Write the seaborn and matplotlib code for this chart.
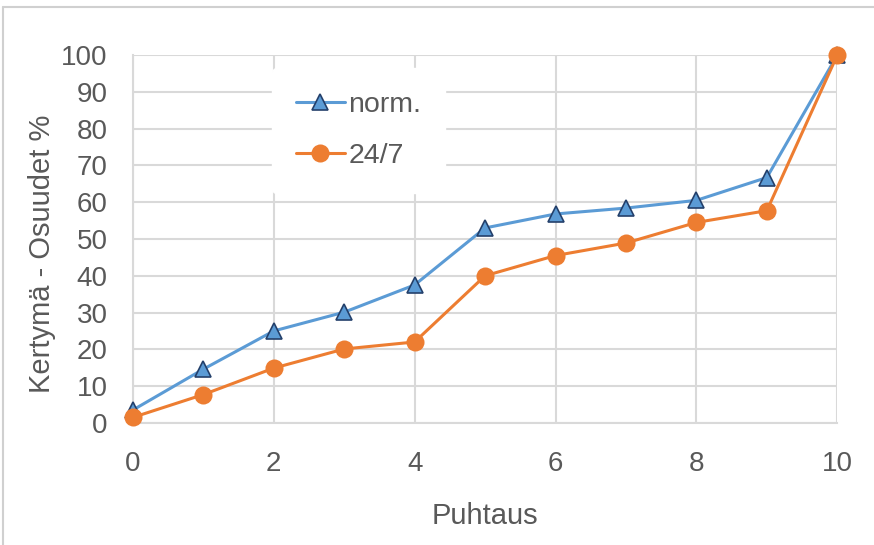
import matplotlib
matplotlib.use("Agg")
import matplotlib.pyplot as plt
import matplotlib.lines as mlines
import seaborn as sns
import pandas as pd

# Cumulative shares by cleanliness grade
puhtaus = [0, 1, 2, 3, 4, 5, 6, 7, 8, 9, 10]
norm_values = [3.5, 14.6, 25.0, 30.1, 37.5, 53.0, 56.8, 58.4, 60.5, 66.7, 100]
h247_values = [1.5, 7.7, 14.9, 20.1, 22.0, 40.0, 45.5, 48.9, 54.5, 57.7, 100]

series_names = ["norm.", "24/7"]
x_ticks = [0, 2, 4, 6, 8, 10]
y_ticks = list(range(0, 101, 10))

df = pd.DataFrame({
    "Puhtaus": puhtaus * 2,
    "Osuus": norm_values + h247_values,
    "Sarja": [series_names[0]] * len(puhtaus) + [series_names[1]] * len(puhtaus),
})

sns.set_theme(style="white")
plt.rcParams["font.family"] = ["Liberation Sans", "DejaVu Sans"]

text_color = "#595959"
grid_color = "#D9D9D9"
blue = "#5B9BD5"
orange = "#ED7D31"

fig = plt.figure(figsize=(8.74, 5.45), dpi=100)
ax = fig.add_axes([0.152, 0.224, 0.806, 0.675])

sns.lineplot(data=df[df["Sarja"] == "norm."], x="Puhtaus", y="Osuus", ax=ax,
             color=blue, linewidth=2.2, marker="^", markersize=12,
             markerfacecolor=blue, markeredgecolor="#24406B", markeredgewidth=1.2,
             label="norm.", zorder=3)
sns.lineplot(data=df[df["Sarja"] == "24/7"], x="Puhtaus", y="Osuus", ax=ax,
             color=orange, linewidth=2.2, marker="o", markersize=13,
             markerfacecolor=orange, markeredgecolor=orange, markeredgewidth=0,
             label="24/7", zorder=4)

ax.set_xlim(0, 10)
ax.set_ylim(0, 100)
ax.set_xticks(x_ticks)
ax.set_yticks(y_ticks)
ax.grid(True, color=grid_color, linewidth=1.5, zorder=0)
ax.set_axisbelow(True)
for side in ["top", "right"]:
    ax.spines[side].set_visible(False)
for side in ["left", "bottom"]:
    ax.spines[side].set_color(grid_color)
    ax.spines[side].set_linewidth(1.5)
for ln in ax.lines:
    ln.set_clip_on(False)

ax.tick_params(axis="both", length=0, labelsize=20, labelcolor=text_color)
ax.tick_params(axis="x", pad=20)
ax.tick_params(axis="y", pad=18)
ax.set_xlabel("Puhtaus", fontsize=21, color=text_color, labelpad=18)
ax.set_ylabel("Kertymä - Osuudet %", fontsize=21, color=text_color)
ax.yaxis.set_label_coords(-0.109, 0.459)

leg = ax.legend(loc="upper left", bbox_to_anchor=(0.197, 0.965), frameon=True,
                fontsize=20.5, handlelength=1.72, handletextpad=0.12,
                labelspacing=0.88, borderpad=0.85, borderaxespad=0)
leg.get_frame().set_facecolor("white")
leg.get_frame().set_edgecolor("white")
leg.get_frame().set_alpha(1)
for t in leg.get_texts():
    t.set_color(text_color)

# thin frame along the left and top edges of the figure
fig.add_artist(mlines.Line2D([0.004, 0.004], [0, 0.988], color="#D0D0D0",
                             linewidth=1.5, transform=fig.transFigure))
fig.add_artist(mlines.Line2D([0.004, 1.0], [0.988, 0.988], color="#D0D0D0",
                             linewidth=1.5, transform=fig.transFigure))

fig.savefig("out.png", dpi=100, facecolor="white")
